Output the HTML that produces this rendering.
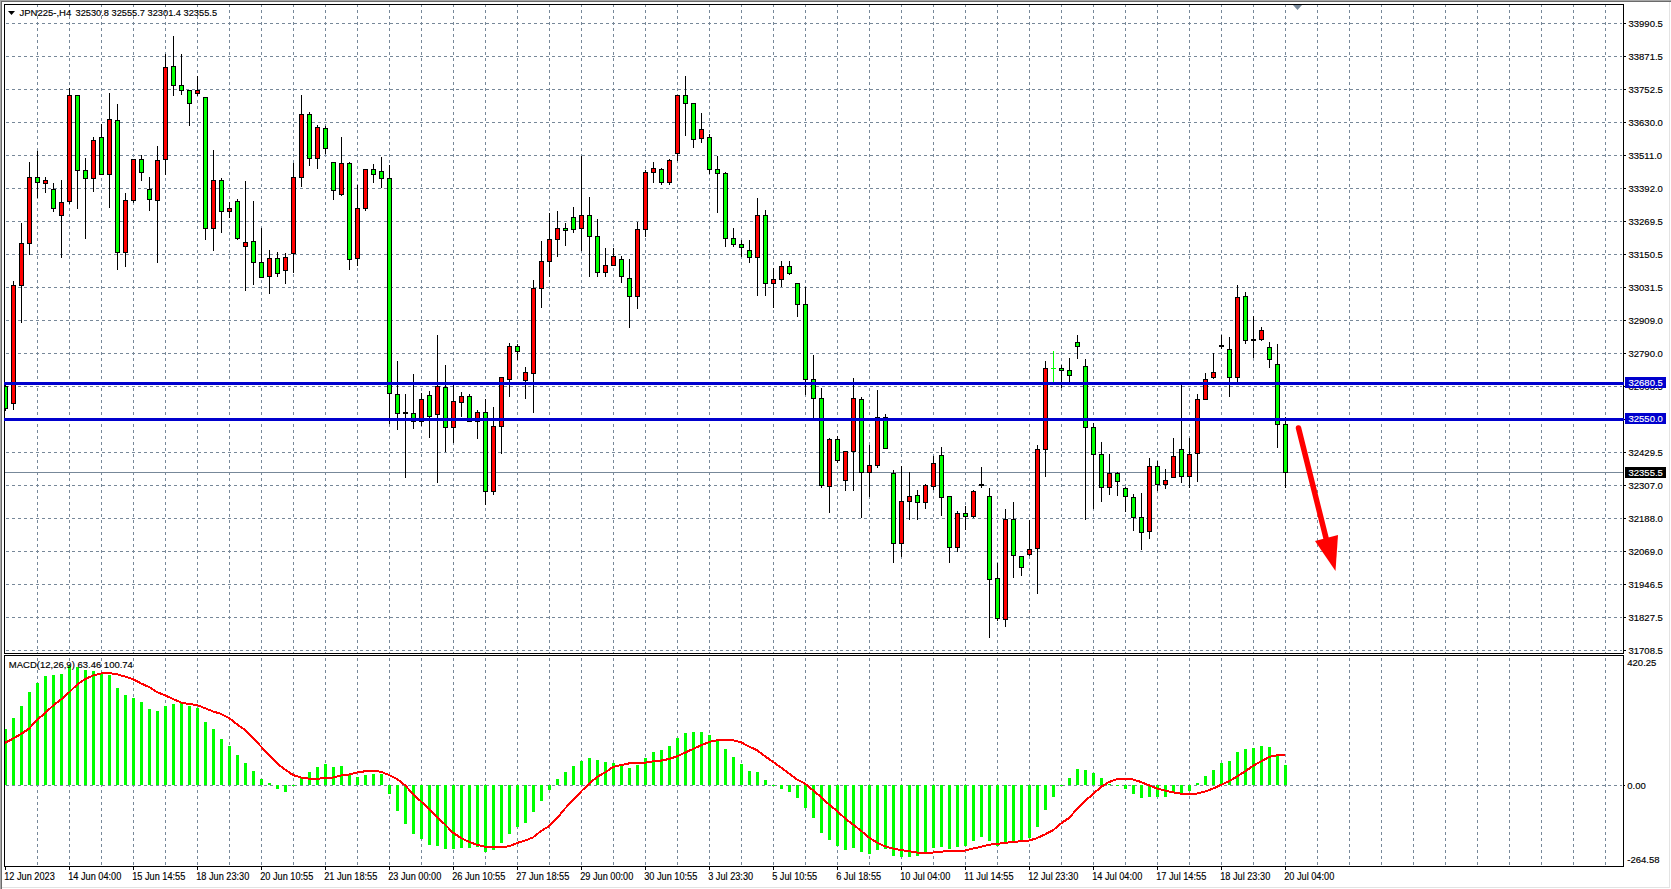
<!DOCTYPE html><html><head><meta charset="utf-8"><title>JPN225 H4</title><style>html,body{margin:0;padding:0;background:#fff;width:1671px;height:889px;overflow:hidden;position:relative}</style></head><body><svg width="1671" height="889" viewBox="0 0 1671 889" shape-rendering="crispEdges" style="position:absolute;left:0;top:0">
<rect x="0" y="0" width="1671" height="889" fill="#ffffff"/>
<rect x="0" y="0" width="1671" height="1" fill="#a8a8a8"/>
<rect x="0" y="0" width="1" height="889" fill="#a8a8a8"/>
<rect x="1" y="1" width="1670" height="1" fill="#6b6b6b"/>
<rect x="1" y="1" width="1" height="888" fill="#6b6b6b"/>
<rect x="1669" y="2" width="1" height="886" fill="#e3e3e3"/>
<rect x="2" y="887" width="1668" height="1" fill="#e3e3e3"/>
<defs><clipPath id="cp"><rect x="5" y="5" width="1618" height="648"/></clipPath><clipPath id="cm"><rect x="5" y="656" width="1618" height="210"/></clipPath></defs>
<path d="M6 23.5H1622M6 56.5H1622M6 89.5H1622M6 122.5H1622M6 155.5H1622M6 188.5H1622M6 221.5H1622M6 254.5H1622M6 287.5H1622M6 320.5H1622M6 353.5H1622M6 386.5H1622M6 419.5H1622M6 452.5H1622M6 485.5H1622M6 518.5H1622M6 551.5H1622M6 584.5H1622M6 617.5H1622M6 650.5H1622" stroke="#778899" stroke-width="1" stroke-dasharray="3 3" fill="none"/>
<path d="M37.5 4V653M69.5 4V653M101.5 4V653M133.5 4V653M165.5 4V653M197.5 4V653M229.5 4V653M261.5 4V653M293.5 4V653M325.5 4V653M357.5 4V653M389.5 4V653M421.5 4V653M453.5 4V653M485.5 4V653M517.5 4V653M549.5 4V653M581.5 4V653M613.5 4V653M645.5 4V653M677.5 4V653M709.5 4V653M741.5 4V653M773.5 4V653M805.5 4V653M837.5 4V653M869.5 4V653M901.5 4V653M933.5 4V653M965.5 4V653M997.5 4V653M1029.5 4V653M1061.5 4V653M1093.5 4V653M1125.5 4V653M1157.5 4V653M1189.5 4V653M1221.5 4V653M1253.5 4V653M1285.5 4V653M1317.5 4V653M1349.5 4V653M1381.5 4V653M1413.5 4V653M1445.5 4V653M1477.5 4V653M1509.5 4V653M1541.5 4V653M1573.5 4V653M1605.5 4V653" stroke="#778899" stroke-width="1" stroke-dasharray="3 3" fill="none"/>
<path d="M37.5 658V866M69.5 658V866M101.5 658V866M133.5 658V866M165.5 658V866M197.5 658V866M229.5 658V866M261.5 658V866M293.5 658V866M325.5 658V866M357.5 658V866M389.5 658V866M421.5 658V866M453.5 658V866M485.5 658V866M517.5 658V866M549.5 658V866M581.5 658V866M613.5 658V866M645.5 658V866M677.5 658V866M709.5 658V866M741.5 658V866M773.5 658V866M805.5 658V866M837.5 658V866M869.5 658V866M901.5 658V866M933.5 658V866M965.5 658V866M997.5 658V866M1029.5 658V866M1061.5 658V866M1093.5 658V866M1125.5 658V866M1157.5 658V866M1189.5 658V866M1221.5 658V866M1253.5 658V866M1285.5 658V866M1317.5 658V866M1349.5 658V866M1381.5 658V866M1413.5 658V866M1445.5 658V866M1477.5 658V866M1509.5 658V866M1541.5 658V866M1573.5 658V866M1605.5 658V866" stroke="#778899" stroke-width="1" stroke-dasharray="3 3" fill="none"/>
<path d="M6 785.5H1622" stroke="#778899" stroke-width="1" stroke-dasharray="3 3" fill="none"/>
<rect x="5" y="472" width="1618" height="1" fill="#778899"/>
<g clip-path="url(#cp)">
<rect x="5" y="383" width="1" height="28" fill="#000000"/>
<rect x="3" y="386" width="5" height="23" fill="#000000"/>
<rect x="4" y="387" width="3" height="21" fill="#00ff00"/>
<rect x="13" y="281" width="1" height="129" fill="#000000"/>
<rect x="11" y="285" width="5" height="119" fill="#000000"/>
<rect x="12" y="286" width="3" height="117" fill="#ff0000"/>
<rect x="21" y="223" width="1" height="100" fill="#000000"/>
<rect x="19" y="243" width="5" height="43" fill="#000000"/>
<rect x="20" y="244" width="3" height="41" fill="#ff0000"/>
<rect x="29" y="162" width="1" height="93" fill="#000000"/>
<rect x="27" y="177" width="5" height="67" fill="#000000"/>
<rect x="28" y="178" width="3" height="65" fill="#ff0000"/>
<rect x="37" y="151" width="1" height="47" fill="#000000"/>
<rect x="35" y="177" width="5" height="6" fill="#000000"/>
<rect x="36" y="178" width="3" height="4" fill="#00ff00"/>
<rect x="45" y="177" width="1" height="16" fill="#000000"/>
<rect x="43" y="180" width="5" height="4" fill="#000000"/>
<rect x="44" y="181" width="3" height="2" fill="#ff0000"/>
<rect x="53" y="183" width="1" height="29" fill="#000000"/>
<rect x="51" y="189" width="5" height="20" fill="#000000"/>
<rect x="52" y="190" width="3" height="18" fill="#00ff00"/>
<rect x="61" y="180" width="1" height="78" fill="#000000"/>
<rect x="59" y="202" width="5" height="14" fill="#000000"/>
<rect x="60" y="203" width="3" height="12" fill="#ff0000"/>
<rect x="69" y="88" width="1" height="116" fill="#000000"/>
<rect x="67" y="95" width="5" height="107" fill="#000000"/>
<rect x="68" y="96" width="3" height="105" fill="#ff0000"/>
<rect x="77" y="95" width="1" height="114" fill="#000000"/>
<rect x="75" y="95" width="5" height="76" fill="#000000"/>
<rect x="76" y="96" width="3" height="74" fill="#00ff00"/>
<rect x="85" y="158" width="1" height="81" fill="#000000"/>
<rect x="83" y="170" width="5" height="9" fill="#000000"/>
<rect x="84" y="171" width="3" height="7" fill="#00ff00"/>
<rect x="93" y="137" width="1" height="55" fill="#000000"/>
<rect x="91" y="140" width="5" height="39" fill="#000000"/>
<rect x="92" y="141" width="3" height="37" fill="#ff0000"/>
<rect x="101" y="124" width="1" height="51" fill="#000000"/>
<rect x="99" y="137" width="5" height="38" fill="#000000"/>
<rect x="100" y="138" width="3" height="36" fill="#00ff00"/>
<rect x="109" y="93" width="1" height="115" fill="#000000"/>
<rect x="107" y="119" width="5" height="56" fill="#000000"/>
<rect x="108" y="120" width="3" height="54" fill="#ff0000"/>
<rect x="117" y="104" width="1" height="166" fill="#000000"/>
<rect x="115" y="120" width="5" height="133" fill="#000000"/>
<rect x="116" y="121" width="3" height="131" fill="#00ff00"/>
<rect x="125" y="193" width="1" height="74" fill="#000000"/>
<rect x="123" y="200" width="5" height="53" fill="#000000"/>
<rect x="124" y="201" width="3" height="51" fill="#ff0000"/>
<rect x="133" y="159" width="1" height="44" fill="#000000"/>
<rect x="131" y="159" width="5" height="42" fill="#000000"/>
<rect x="132" y="160" width="3" height="40" fill="#ff0000"/>
<rect x="141" y="155" width="1" height="26" fill="#000000"/>
<rect x="139" y="159" width="5" height="14" fill="#000000"/>
<rect x="140" y="160" width="3" height="12" fill="#00ff00"/>
<rect x="149" y="177" width="1" height="34" fill="#000000"/>
<rect x="147" y="189" width="5" height="11" fill="#000000"/>
<rect x="148" y="190" width="3" height="9" fill="#00ff00"/>
<rect x="157" y="146" width="1" height="117" fill="#000000"/>
<rect x="155" y="160" width="5" height="41" fill="#000000"/>
<rect x="156" y="161" width="3" height="39" fill="#ff0000"/>
<rect x="165" y="54" width="1" height="121" fill="#000000"/>
<rect x="163" y="67" width="5" height="93" fill="#000000"/>
<rect x="164" y="68" width="3" height="91" fill="#ff0000"/>
<rect x="173" y="36" width="1" height="60" fill="#000000"/>
<rect x="171" y="66" width="5" height="20" fill="#000000"/>
<rect x="172" y="67" width="3" height="18" fill="#00ff00"/>
<rect x="181" y="54" width="1" height="41" fill="#000000"/>
<rect x="179" y="85" width="5" height="6" fill="#000000"/>
<rect x="180" y="86" width="3" height="4" fill="#00ff00"/>
<rect x="189" y="90" width="1" height="36" fill="#000000"/>
<rect x="187" y="90" width="5" height="14" fill="#000000"/>
<rect x="188" y="91" width="3" height="12" fill="#00ff00"/>
<rect x="197" y="76" width="1" height="20" fill="#000000"/>
<rect x="195" y="90" width="5" height="4" fill="#000000"/>
<rect x="196" y="91" width="3" height="2" fill="#ff0000"/>
<rect x="205" y="97" width="1" height="143" fill="#000000"/>
<rect x="203" y="97" width="5" height="132" fill="#000000"/>
<rect x="204" y="98" width="3" height="130" fill="#00ff00"/>
<rect x="213" y="150" width="1" height="101" fill="#000000"/>
<rect x="211" y="180" width="5" height="49" fill="#000000"/>
<rect x="212" y="181" width="3" height="47" fill="#ff0000"/>
<rect x="221" y="178" width="1" height="55" fill="#000000"/>
<rect x="219" y="180" width="5" height="32" fill="#000000"/>
<rect x="220" y="181" width="3" height="30" fill="#00ff00"/>
<rect x="229" y="202" width="1" height="16" fill="#000000"/>
<rect x="227" y="208" width="5" height="4" fill="#000000"/>
<rect x="228" y="209" width="3" height="2" fill="#ff0000"/>
<rect x="237" y="199" width="1" height="41" fill="#000000"/>
<rect x="235" y="201" width="5" height="38" fill="#000000"/>
<rect x="236" y="202" width="3" height="36" fill="#00ff00"/>
<rect x="245" y="181" width="1" height="110" fill="#000000"/>
<rect x="243" y="242" width="5" height="5" fill="#000000"/>
<rect x="244" y="243" width="3" height="3" fill="#ff0000"/>
<rect x="253" y="201" width="1" height="84" fill="#000000"/>
<rect x="251" y="241" width="5" height="22" fill="#000000"/>
<rect x="252" y="242" width="3" height="20" fill="#00ff00"/>
<rect x="261" y="228" width="1" height="50" fill="#000000"/>
<rect x="259" y="262" width="5" height="16" fill="#000000"/>
<rect x="260" y="263" width="3" height="14" fill="#00ff00"/>
<rect x="269" y="250" width="1" height="44" fill="#000000"/>
<rect x="267" y="258" width="5" height="19" fill="#000000"/>
<rect x="268" y="259" width="3" height="17" fill="#ff0000"/>
<rect x="277" y="252" width="1" height="25" fill="#000000"/>
<rect x="275" y="258" width="5" height="16" fill="#000000"/>
<rect x="276" y="259" width="3" height="14" fill="#00ff00"/>
<rect x="285" y="253" width="1" height="31" fill="#000000"/>
<rect x="283" y="257" width="5" height="14" fill="#000000"/>
<rect x="284" y="258" width="3" height="12" fill="#ff0000"/>
<rect x="293" y="163" width="1" height="110" fill="#000000"/>
<rect x="291" y="177" width="5" height="77" fill="#000000"/>
<rect x="292" y="178" width="3" height="75" fill="#ff0000"/>
<rect x="301" y="95" width="1" height="92" fill="#000000"/>
<rect x="299" y="114" width="5" height="64" fill="#000000"/>
<rect x="300" y="115" width="3" height="62" fill="#ff0000"/>
<rect x="309" y="112" width="1" height="54" fill="#000000"/>
<rect x="307" y="114" width="5" height="45" fill="#000000"/>
<rect x="308" y="115" width="3" height="43" fill="#00ff00"/>
<rect x="317" y="125" width="1" height="44" fill="#000000"/>
<rect x="315" y="127" width="5" height="32" fill="#000000"/>
<rect x="316" y="128" width="3" height="30" fill="#ff0000"/>
<rect x="325" y="126" width="1" height="28" fill="#000000"/>
<rect x="323" y="128" width="5" height="21" fill="#000000"/>
<rect x="324" y="129" width="3" height="19" fill="#00ff00"/>
<rect x="333" y="162" width="1" height="38" fill="#000000"/>
<rect x="331" y="162" width="5" height="29" fill="#000000"/>
<rect x="332" y="163" width="3" height="27" fill="#00ff00"/>
<rect x="341" y="137" width="1" height="59" fill="#000000"/>
<rect x="339" y="163" width="5" height="32" fill="#000000"/>
<rect x="340" y="164" width="3" height="30" fill="#ff0000"/>
<rect x="349" y="162" width="1" height="108" fill="#000000"/>
<rect x="347" y="163" width="5" height="97" fill="#000000"/>
<rect x="348" y="164" width="3" height="95" fill="#00ff00"/>
<rect x="357" y="185" width="1" height="81" fill="#000000"/>
<rect x="355" y="208" width="5" height="51" fill="#000000"/>
<rect x="356" y="209" width="3" height="49" fill="#ff0000"/>
<rect x="365" y="169" width="1" height="42" fill="#000000"/>
<rect x="363" y="169" width="5" height="40" fill="#000000"/>
<rect x="364" y="170" width="3" height="38" fill="#ff0000"/>
<rect x="373" y="164" width="1" height="19" fill="#000000"/>
<rect x="371" y="169" width="5" height="6" fill="#000000"/>
<rect x="372" y="170" width="3" height="4" fill="#00ff00"/>
<rect x="381" y="157" width="1" height="31" fill="#000000"/>
<rect x="379" y="171" width="5" height="8" fill="#000000"/>
<rect x="380" y="172" width="3" height="6" fill="#00ff00"/>
<rect x="389" y="165" width="1" height="259" fill="#000000"/>
<rect x="387" y="178" width="5" height="216" fill="#000000"/>
<rect x="388" y="179" width="3" height="214" fill="#00ff00"/>
<rect x="397" y="361" width="1" height="69" fill="#000000"/>
<rect x="395" y="394" width="5" height="20" fill="#000000"/>
<rect x="396" y="395" width="3" height="18" fill="#00ff00"/>
<rect x="405" y="394" width="1" height="84" fill="#000000"/>
<rect x="403" y="412" width="5" height="2" fill="#000000"/>
<rect x="413" y="374" width="1" height="55" fill="#000000"/>
<rect x="411" y="413" width="5" height="9" fill="#000000"/>
<rect x="412" y="414" width="3" height="7" fill="#00ff00"/>
<rect x="421" y="393" width="1" height="33" fill="#000000"/>
<rect x="419" y="399" width="5" height="23" fill="#000000"/>
<rect x="420" y="400" width="3" height="21" fill="#ff0000"/>
<rect x="429" y="391" width="1" height="47" fill="#000000"/>
<rect x="427" y="395" width="5" height="22" fill="#000000"/>
<rect x="428" y="396" width="3" height="20" fill="#00ff00"/>
<rect x="437" y="335" width="1" height="148" fill="#000000"/>
<rect x="435" y="386" width="5" height="29" fill="#000000"/>
<rect x="436" y="387" width="3" height="27" fill="#ff0000"/>
<rect x="445" y="365" width="1" height="87" fill="#000000"/>
<rect x="443" y="387" width="5" height="41" fill="#000000"/>
<rect x="444" y="388" width="3" height="39" fill="#00ff00"/>
<rect x="453" y="385" width="1" height="58" fill="#000000"/>
<rect x="451" y="401" width="5" height="27" fill="#000000"/>
<rect x="452" y="402" width="3" height="25" fill="#ff0000"/>
<rect x="461" y="392" width="1" height="25" fill="#000000"/>
<rect x="459" y="396" width="5" height="7" fill="#000000"/>
<rect x="460" y="397" width="3" height="5" fill="#ff0000"/>
<rect x="469" y="394" width="1" height="28" fill="#000000"/>
<rect x="467" y="396" width="5" height="26" fill="#000000"/>
<rect x="468" y="397" width="3" height="24" fill="#00ff00"/>
<rect x="477" y="410" width="1" height="29" fill="#000000"/>
<rect x="475" y="412" width="5" height="10" fill="#000000"/>
<rect x="476" y="413" width="3" height="8" fill="#ff0000"/>
<rect x="485" y="399" width="1" height="106" fill="#000000"/>
<rect x="483" y="412" width="5" height="80" fill="#000000"/>
<rect x="484" y="413" width="3" height="78" fill="#00ff00"/>
<rect x="493" y="407" width="1" height="88" fill="#000000"/>
<rect x="491" y="426" width="5" height="66" fill="#000000"/>
<rect x="492" y="427" width="3" height="64" fill="#ff0000"/>
<rect x="501" y="377" width="1" height="77" fill="#000000"/>
<rect x="499" y="377" width="5" height="50" fill="#000000"/>
<rect x="500" y="378" width="3" height="48" fill="#ff0000"/>
<rect x="509" y="343" width="1" height="54" fill="#000000"/>
<rect x="507" y="346" width="5" height="34" fill="#000000"/>
<rect x="508" y="347" width="3" height="32" fill="#ff0000"/>
<rect x="517" y="344" width="1" height="16" fill="#000000"/>
<rect x="515" y="346" width="5" height="6" fill="#000000"/>
<rect x="516" y="347" width="3" height="4" fill="#00ff00"/>
<rect x="525" y="367" width="1" height="32" fill="#000000"/>
<rect x="523" y="372" width="5" height="9" fill="#000000"/>
<rect x="524" y="373" width="3" height="7" fill="#ff0000"/>
<rect x="533" y="280" width="1" height="133" fill="#000000"/>
<rect x="531" y="288" width="5" height="86" fill="#000000"/>
<rect x="532" y="289" width="3" height="84" fill="#ff0000"/>
<rect x="541" y="241" width="1" height="67" fill="#000000"/>
<rect x="539" y="261" width="5" height="28" fill="#000000"/>
<rect x="540" y="262" width="3" height="26" fill="#ff0000"/>
<rect x="549" y="213" width="1" height="64" fill="#000000"/>
<rect x="547" y="239" width="5" height="23" fill="#000000"/>
<rect x="548" y="240" width="3" height="21" fill="#ff0000"/>
<rect x="557" y="211" width="1" height="46" fill="#000000"/>
<rect x="555" y="228" width="5" height="12" fill="#000000"/>
<rect x="556" y="229" width="3" height="10" fill="#ff0000"/>
<rect x="565" y="223" width="1" height="23" fill="#000000"/>
<rect x="563" y="228" width="5" height="3" fill="#000000"/>
<rect x="564" y="229" width="3" height="1" fill="#00ff00"/>
<rect x="573" y="207" width="1" height="26" fill="#000000"/>
<rect x="571" y="217" width="5" height="13" fill="#000000"/>
<rect x="572" y="218" width="3" height="11" fill="#00ff00"/>
<rect x="581" y="156" width="1" height="95" fill="#000000"/>
<rect x="579" y="215" width="5" height="14" fill="#000000"/>
<rect x="580" y="216" width="3" height="12" fill="#ff0000"/>
<rect x="589" y="197" width="1" height="80" fill="#000000"/>
<rect x="587" y="215" width="5" height="22" fill="#000000"/>
<rect x="588" y="216" width="3" height="20" fill="#00ff00"/>
<rect x="597" y="219" width="1" height="58" fill="#000000"/>
<rect x="595" y="236" width="5" height="37" fill="#000000"/>
<rect x="596" y="237" width="3" height="35" fill="#00ff00"/>
<rect x="605" y="248" width="1" height="29" fill="#000000"/>
<rect x="603" y="265" width="5" height="8" fill="#000000"/>
<rect x="604" y="266" width="3" height="6" fill="#ff0000"/>
<rect x="613" y="248" width="1" height="18" fill="#000000"/>
<rect x="611" y="256" width="5" height="10" fill="#000000"/>
<rect x="612" y="257" width="3" height="8" fill="#ff0000"/>
<rect x="621" y="256" width="1" height="27" fill="#000000"/>
<rect x="619" y="259" width="5" height="18" fill="#000000"/>
<rect x="620" y="260" width="3" height="16" fill="#00ff00"/>
<rect x="629" y="259" width="1" height="69" fill="#000000"/>
<rect x="627" y="278" width="5" height="19" fill="#000000"/>
<rect x="628" y="279" width="3" height="17" fill="#00ff00"/>
<rect x="637" y="222" width="1" height="87" fill="#000000"/>
<rect x="635" y="229" width="5" height="68" fill="#000000"/>
<rect x="636" y="230" width="3" height="66" fill="#ff0000"/>
<rect x="645" y="170" width="1" height="67" fill="#000000"/>
<rect x="643" y="172" width="5" height="58" fill="#000000"/>
<rect x="644" y="173" width="3" height="56" fill="#ff0000"/>
<rect x="653" y="162" width="1" height="21" fill="#000000"/>
<rect x="651" y="168" width="5" height="5" fill="#000000"/>
<rect x="652" y="169" width="3" height="3" fill="#ff0000"/>
<rect x="661" y="168" width="1" height="17" fill="#000000"/>
<rect x="659" y="169" width="5" height="14" fill="#000000"/>
<rect x="660" y="170" width="3" height="12" fill="#00ff00"/>
<rect x="669" y="159" width="1" height="26" fill="#000000"/>
<rect x="667" y="160" width="5" height="23" fill="#000000"/>
<rect x="668" y="161" width="3" height="21" fill="#ff0000"/>
<rect x="677" y="95" width="1" height="66" fill="#000000"/>
<rect x="675" y="95" width="5" height="59" fill="#000000"/>
<rect x="676" y="96" width="3" height="57" fill="#ff0000"/>
<rect x="685" y="76" width="1" height="60" fill="#000000"/>
<rect x="683" y="95" width="5" height="9" fill="#000000"/>
<rect x="684" y="96" width="3" height="7" fill="#00ff00"/>
<rect x="693" y="103" width="1" height="45" fill="#000000"/>
<rect x="691" y="103" width="5" height="37" fill="#000000"/>
<rect x="692" y="104" width="3" height="35" fill="#00ff00"/>
<rect x="701" y="113" width="1" height="30" fill="#000000"/>
<rect x="699" y="129" width="5" height="10" fill="#000000"/>
<rect x="700" y="130" width="3" height="8" fill="#ff0000"/>
<rect x="709" y="134" width="1" height="40" fill="#000000"/>
<rect x="707" y="137" width="5" height="33" fill="#000000"/>
<rect x="708" y="138" width="3" height="31" fill="#00ff00"/>
<rect x="717" y="156" width="1" height="57" fill="#000000"/>
<rect x="715" y="169" width="5" height="5" fill="#000000"/>
<rect x="716" y="170" width="3" height="3" fill="#00ff00"/>
<rect x="725" y="172" width="1" height="75" fill="#000000"/>
<rect x="723" y="173" width="5" height="66" fill="#000000"/>
<rect x="724" y="174" width="3" height="64" fill="#00ff00"/>
<rect x="733" y="228" width="1" height="19" fill="#000000"/>
<rect x="731" y="238" width="5" height="7" fill="#000000"/>
<rect x="732" y="239" width="3" height="5" fill="#00ff00"/>
<rect x="741" y="240" width="1" height="17" fill="#000000"/>
<rect x="739" y="244" width="5" height="4" fill="#000000"/>
<rect x="740" y="245" width="3" height="2" fill="#00ff00"/>
<rect x="749" y="240" width="1" height="23" fill="#000000"/>
<rect x="747" y="250" width="5" height="8" fill="#000000"/>
<rect x="748" y="251" width="3" height="6" fill="#00ff00"/>
<rect x="757" y="198" width="1" height="98" fill="#000000"/>
<rect x="755" y="215" width="5" height="43" fill="#000000"/>
<rect x="756" y="216" width="3" height="41" fill="#ff0000"/>
<rect x="765" y="210" width="1" height="86" fill="#000000"/>
<rect x="763" y="215" width="5" height="69" fill="#000000"/>
<rect x="764" y="216" width="3" height="67" fill="#00ff00"/>
<rect x="773" y="268" width="1" height="40" fill="#000000"/>
<rect x="771" y="279" width="5" height="5" fill="#000000"/>
<rect x="772" y="280" width="3" height="3" fill="#ff0000"/>
<rect x="781" y="261" width="1" height="26" fill="#000000"/>
<rect x="779" y="266" width="5" height="14" fill="#000000"/>
<rect x="780" y="267" width="3" height="12" fill="#ff0000"/>
<rect x="789" y="261" width="1" height="14" fill="#000000"/>
<rect x="787" y="266" width="5" height="8" fill="#000000"/>
<rect x="788" y="267" width="3" height="6" fill="#00ff00"/>
<rect x="797" y="283" width="1" height="34" fill="#000000"/>
<rect x="795" y="283" width="5" height="22" fill="#000000"/>
<rect x="796" y="284" width="3" height="20" fill="#00ff00"/>
<rect x="805" y="287" width="1" height="108" fill="#000000"/>
<rect x="803" y="304" width="5" height="76" fill="#000000"/>
<rect x="804" y="305" width="3" height="74" fill="#00ff00"/>
<rect x="813" y="355" width="1" height="63" fill="#000000"/>
<rect x="811" y="379" width="5" height="20" fill="#000000"/>
<rect x="812" y="380" width="3" height="18" fill="#00ff00"/>
<rect x="821" y="388" width="1" height="100" fill="#000000"/>
<rect x="819" y="398" width="5" height="88" fill="#000000"/>
<rect x="820" y="399" width="3" height="86" fill="#00ff00"/>
<rect x="829" y="438" width="1" height="75" fill="#000000"/>
<rect x="827" y="439" width="5" height="48" fill="#000000"/>
<rect x="828" y="440" width="3" height="46" fill="#ff0000"/>
<rect x="837" y="436" width="1" height="27" fill="#000000"/>
<rect x="835" y="439" width="5" height="22" fill="#000000"/>
<rect x="836" y="440" width="3" height="20" fill="#00ff00"/>
<rect x="845" y="451" width="1" height="40" fill="#000000"/>
<rect x="843" y="451" width="5" height="30" fill="#000000"/>
<rect x="844" y="452" width="3" height="28" fill="#ff0000"/>
<rect x="853" y="378" width="1" height="113" fill="#000000"/>
<rect x="851" y="398" width="5" height="54" fill="#000000"/>
<rect x="852" y="399" width="3" height="52" fill="#ff0000"/>
<rect x="861" y="397" width="1" height="121" fill="#000000"/>
<rect x="859" y="399" width="5" height="74" fill="#000000"/>
<rect x="860" y="400" width="3" height="72" fill="#00ff00"/>
<rect x="869" y="445" width="1" height="52" fill="#000000"/>
<rect x="867" y="465" width="5" height="8" fill="#000000"/>
<rect x="868" y="466" width="3" height="6" fill="#ff0000"/>
<rect x="877" y="390" width="1" height="78" fill="#000000"/>
<rect x="875" y="417" width="5" height="49" fill="#000000"/>
<rect x="876" y="418" width="3" height="47" fill="#ff0000"/>
<rect x="885" y="414" width="1" height="35" fill="#000000"/>
<rect x="883" y="417" width="5" height="32" fill="#000000"/>
<rect x="884" y="418" width="3" height="30" fill="#00ff00"/>
<rect x="893" y="470" width="1" height="93" fill="#000000"/>
<rect x="891" y="473" width="5" height="71" fill="#000000"/>
<rect x="892" y="474" width="3" height="69" fill="#00ff00"/>
<rect x="901" y="466" width="1" height="91" fill="#000000"/>
<rect x="899" y="501" width="5" height="43" fill="#000000"/>
<rect x="900" y="502" width="3" height="41" fill="#ff0000"/>
<rect x="909" y="472" width="1" height="48" fill="#000000"/>
<rect x="907" y="496" width="5" height="6" fill="#000000"/>
<rect x="908" y="497" width="3" height="4" fill="#ff0000"/>
<rect x="917" y="490" width="1" height="30" fill="#000000"/>
<rect x="915" y="495" width="5" height="8" fill="#000000"/>
<rect x="916" y="496" width="3" height="6" fill="#00ff00"/>
<rect x="925" y="484" width="1" height="25" fill="#000000"/>
<rect x="923" y="485" width="5" height="18" fill="#000000"/>
<rect x="924" y="486" width="3" height="16" fill="#ff0000"/>
<rect x="933" y="456" width="1" height="34" fill="#000000"/>
<rect x="931" y="463" width="5" height="24" fill="#000000"/>
<rect x="932" y="464" width="3" height="22" fill="#ff0000"/>
<rect x="941" y="447" width="1" height="69" fill="#000000"/>
<rect x="939" y="455" width="5" height="43" fill="#000000"/>
<rect x="940" y="456" width="3" height="41" fill="#00ff00"/>
<rect x="949" y="496" width="1" height="67" fill="#000000"/>
<rect x="947" y="496" width="5" height="52" fill="#000000"/>
<rect x="948" y="497" width="3" height="50" fill="#00ff00"/>
<rect x="957" y="511" width="1" height="41" fill="#000000"/>
<rect x="955" y="513" width="5" height="35" fill="#000000"/>
<rect x="956" y="514" width="3" height="33" fill="#ff0000"/>
<rect x="965" y="506" width="1" height="24" fill="#000000"/>
<rect x="963" y="513" width="5" height="4" fill="#000000"/>
<rect x="964" y="514" width="3" height="2" fill="#00ff00"/>
<rect x="973" y="490" width="1" height="28" fill="#000000"/>
<rect x="971" y="491" width="5" height="26" fill="#000000"/>
<rect x="972" y="492" width="3" height="24" fill="#ff0000"/>
<rect x="981" y="467" width="1" height="21" fill="#000000"/>
<rect x="979" y="484" width="5" height="2" fill="#000000"/>
<rect x="989" y="488" width="1" height="150" fill="#000000"/>
<rect x="987" y="496" width="5" height="84" fill="#000000"/>
<rect x="988" y="497" width="3" height="82" fill="#00ff00"/>
<rect x="997" y="563" width="1" height="58" fill="#000000"/>
<rect x="995" y="578" width="5" height="41" fill="#000000"/>
<rect x="996" y="579" width="3" height="39" fill="#00ff00"/>
<rect x="1005" y="509" width="1" height="118" fill="#000000"/>
<rect x="1003" y="519" width="5" height="101" fill="#000000"/>
<rect x="1004" y="520" width="3" height="99" fill="#ff0000"/>
<rect x="1013" y="502" width="1" height="76" fill="#000000"/>
<rect x="1011" y="519" width="5" height="37" fill="#000000"/>
<rect x="1012" y="520" width="3" height="35" fill="#00ff00"/>
<rect x="1021" y="556" width="1" height="20" fill="#000000"/>
<rect x="1019" y="556" width="5" height="12" fill="#000000"/>
<rect x="1020" y="557" width="3" height="10" fill="#00ff00"/>
<rect x="1029" y="520" width="1" height="36" fill="#000000"/>
<rect x="1027" y="549" width="5" height="6" fill="#000000"/>
<rect x="1028" y="550" width="3" height="4" fill="#ff0000"/>
<rect x="1037" y="445" width="1" height="149" fill="#000000"/>
<rect x="1035" y="449" width="5" height="100" fill="#000000"/>
<rect x="1036" y="450" width="3" height="98" fill="#ff0000"/>
<rect x="1045" y="361" width="1" height="116" fill="#000000"/>
<rect x="1043" y="368" width="5" height="82" fill="#000000"/>
<rect x="1044" y="369" width="3" height="80" fill="#ff0000"/>
<rect x="1053" y="351" width="1" height="32" fill="#00ff00"/>
<rect x="1051" y="368" width="5" height="1" fill="#00ff00"/>
<rect x="1061" y="365" width="1" height="23" fill="#000000"/>
<rect x="1059" y="368" width="5" height="3" fill="#000000"/>
<rect x="1060" y="369" width="3" height="1" fill="#00ff00"/>
<rect x="1069" y="358" width="1" height="24" fill="#000000"/>
<rect x="1067" y="370" width="5" height="6" fill="#000000"/>
<rect x="1068" y="371" width="3" height="4" fill="#00ff00"/>
<rect x="1077" y="335" width="1" height="24" fill="#000000"/>
<rect x="1075" y="342" width="5" height="5" fill="#000000"/>
<rect x="1076" y="343" width="3" height="3" fill="#00ff00"/>
<rect x="1085" y="359" width="1" height="161" fill="#000000"/>
<rect x="1083" y="366" width="5" height="62" fill="#000000"/>
<rect x="1084" y="367" width="3" height="60" fill="#00ff00"/>
<rect x="1093" y="423" width="1" height="86" fill="#000000"/>
<rect x="1091" y="427" width="5" height="28" fill="#000000"/>
<rect x="1092" y="428" width="3" height="26" fill="#00ff00"/>
<rect x="1101" y="442" width="1" height="60" fill="#000000"/>
<rect x="1099" y="454" width="5" height="34" fill="#000000"/>
<rect x="1100" y="455" width="3" height="32" fill="#00ff00"/>
<rect x="1109" y="454" width="1" height="41" fill="#000000"/>
<rect x="1107" y="473" width="5" height="15" fill="#000000"/>
<rect x="1108" y="474" width="3" height="13" fill="#ff0000"/>
<rect x="1117" y="472" width="1" height="24" fill="#000000"/>
<rect x="1115" y="473" width="5" height="9" fill="#000000"/>
<rect x="1116" y="474" width="3" height="7" fill="#00ff00"/>
<rect x="1125" y="487" width="1" height="25" fill="#000000"/>
<rect x="1123" y="488" width="5" height="9" fill="#000000"/>
<rect x="1124" y="489" width="3" height="7" fill="#00ff00"/>
<rect x="1133" y="494" width="1" height="37" fill="#000000"/>
<rect x="1131" y="497" width="5" height="21" fill="#000000"/>
<rect x="1132" y="498" width="3" height="19" fill="#00ff00"/>
<rect x="1141" y="493" width="1" height="57" fill="#000000"/>
<rect x="1139" y="517" width="5" height="16" fill="#000000"/>
<rect x="1140" y="518" width="3" height="14" fill="#00ff00"/>
<rect x="1149" y="458" width="1" height="81" fill="#000000"/>
<rect x="1147" y="466" width="5" height="66" fill="#000000"/>
<rect x="1148" y="467" width="3" height="64" fill="#ff0000"/>
<rect x="1157" y="461" width="1" height="30" fill="#000000"/>
<rect x="1155" y="466" width="5" height="19" fill="#000000"/>
<rect x="1156" y="467" width="3" height="17" fill="#00ff00"/>
<rect x="1165" y="469" width="1" height="20" fill="#000000"/>
<rect x="1163" y="480" width="5" height="5" fill="#000000"/>
<rect x="1164" y="481" width="3" height="3" fill="#ff0000"/>
<rect x="1173" y="438" width="1" height="40" fill="#000000"/>
<rect x="1171" y="456" width="5" height="22" fill="#000000"/>
<rect x="1172" y="457" width="3" height="20" fill="#ff0000"/>
<rect x="1181" y="384" width="1" height="99" fill="#000000"/>
<rect x="1179" y="449" width="5" height="28" fill="#000000"/>
<rect x="1180" y="450" width="3" height="26" fill="#00ff00"/>
<rect x="1189" y="438" width="1" height="50" fill="#000000"/>
<rect x="1187" y="454" width="5" height="23" fill="#000000"/>
<rect x="1188" y="455" width="3" height="21" fill="#ff0000"/>
<rect x="1197" y="394" width="1" height="88" fill="#000000"/>
<rect x="1195" y="399" width="5" height="55" fill="#000000"/>
<rect x="1196" y="400" width="3" height="53" fill="#ff0000"/>
<rect x="1205" y="373" width="1" height="27" fill="#000000"/>
<rect x="1203" y="379" width="5" height="21" fill="#000000"/>
<rect x="1204" y="380" width="3" height="19" fill="#ff0000"/>
<rect x="1213" y="353" width="1" height="26" fill="#000000"/>
<rect x="1211" y="372" width="5" height="6" fill="#000000"/>
<rect x="1212" y="373" width="3" height="4" fill="#ff0000"/>
<rect x="1221" y="335" width="1" height="14" fill="#000000"/>
<rect x="1219" y="345" width="5" height="2" fill="#000000"/>
<rect x="1229" y="337" width="1" height="60" fill="#000000"/>
<rect x="1227" y="349" width="5" height="29" fill="#000000"/>
<rect x="1228" y="350" width="3" height="27" fill="#00ff00"/>
<rect x="1237" y="285" width="1" height="97" fill="#000000"/>
<rect x="1235" y="297" width="5" height="81" fill="#000000"/>
<rect x="1236" y="298" width="3" height="79" fill="#ff0000"/>
<rect x="1245" y="292" width="1" height="52" fill="#000000"/>
<rect x="1243" y="296" width="5" height="45" fill="#000000"/>
<rect x="1244" y="297" width="3" height="43" fill="#00ff00"/>
<rect x="1253" y="316" width="1" height="42" fill="#000000"/>
<rect x="1251" y="339" width="5" height="2" fill="#000000"/>
<rect x="1261" y="327" width="1" height="14" fill="#000000"/>
<rect x="1259" y="330" width="5" height="10" fill="#000000"/>
<rect x="1260" y="331" width="3" height="8" fill="#ff0000"/>
<rect x="1269" y="342" width="1" height="26" fill="#000000"/>
<rect x="1267" y="347" width="5" height="13" fill="#000000"/>
<rect x="1268" y="348" width="3" height="11" fill="#00ff00"/>
<rect x="1277" y="344" width="1" height="104" fill="#000000"/>
<rect x="1275" y="364" width="5" height="61" fill="#000000"/>
<rect x="1276" y="365" width="3" height="59" fill="#00ff00"/>
<rect x="1285" y="417" width="1" height="71" fill="#000000"/>
<rect x="1283" y="424" width="5" height="49" fill="#000000"/>
<rect x="1284" y="425" width="3" height="47" fill="#00ff00"/>
</g>
<rect x="5" y="382" width="1618" height="3" fill="#0000cd"/>
<rect x="5" y="418" width="1618" height="3" fill="#0000cd"/>
<g clip-path="url(#cm)">
<rect x="4" y="729" width="3" height="56" fill="#00ff00"/>
<rect x="12" y="718" width="3" height="67" fill="#00ff00"/>
<rect x="20" y="706" width="3" height="79" fill="#00ff00"/>
<rect x="28" y="692" width="3" height="93" fill="#00ff00"/>
<rect x="36" y="683" width="3" height="102" fill="#00ff00"/>
<rect x="44" y="676" width="3" height="109" fill="#00ff00"/>
<rect x="52" y="675" width="3" height="110" fill="#00ff00"/>
<rect x="60" y="674" width="3" height="111" fill="#00ff00"/>
<rect x="68" y="666" width="3" height="119" fill="#00ff00"/>
<rect x="76" y="667" width="3" height="118" fill="#00ff00"/>
<rect x="84" y="670" width="3" height="115" fill="#00ff00"/>
<rect x="92" y="671" width="3" height="114" fill="#00ff00"/>
<rect x="100" y="674" width="3" height="111" fill="#00ff00"/>
<rect x="108" y="675" width="3" height="110" fill="#00ff00"/>
<rect x="116" y="688" width="3" height="97" fill="#00ff00"/>
<rect x="124" y="695" width="3" height="90" fill="#00ff00"/>
<rect x="132" y="698" width="3" height="87" fill="#00ff00"/>
<rect x="140" y="702" width="3" height="83" fill="#00ff00"/>
<rect x="148" y="709" width="3" height="76" fill="#00ff00"/>
<rect x="156" y="711" width="3" height="74" fill="#00ff00"/>
<rect x="164" y="706" width="3" height="79" fill="#00ff00"/>
<rect x="172" y="704" width="3" height="81" fill="#00ff00"/>
<rect x="180" y="703" width="3" height="82" fill="#00ff00"/>
<rect x="188" y="706" width="3" height="79" fill="#00ff00"/>
<rect x="196" y="708" width="3" height="77" fill="#00ff00"/>
<rect x="204" y="722" width="3" height="63" fill="#00ff00"/>
<rect x="212" y="729" width="3" height="56" fill="#00ff00"/>
<rect x="220" y="739" width="3" height="46" fill="#00ff00"/>
<rect x="228" y="746" width="3" height="39" fill="#00ff00"/>
<rect x="236" y="755" width="3" height="30" fill="#00ff00"/>
<rect x="244" y="763" width="3" height="22" fill="#00ff00"/>
<rect x="252" y="771" width="3" height="14" fill="#00ff00"/>
<rect x="260" y="779" width="3" height="6" fill="#00ff00"/>
<rect x="268" y="783" width="3" height="2" fill="#00ff00"/>
<rect x="276" y="785" width="3" height="4" fill="#00ff00"/>
<rect x="284" y="785" width="3" height="7" fill="#00ff00"/>
<rect x="292" y="785" width="3" height="1" fill="#00ff00"/>
<rect x="300" y="777" width="3" height="8" fill="#00ff00"/>
<rect x="308" y="772" width="3" height="13" fill="#00ff00"/>
<rect x="316" y="767" width="3" height="18" fill="#00ff00"/>
<rect x="324" y="764" width="3" height="21" fill="#00ff00"/>
<rect x="332" y="767" width="3" height="18" fill="#00ff00"/>
<rect x="340" y="766" width="3" height="19" fill="#00ff00"/>
<rect x="348" y="774" width="3" height="11" fill="#00ff00"/>
<rect x="356" y="777" width="3" height="8" fill="#00ff00"/>
<rect x="364" y="775" width="3" height="10" fill="#00ff00"/>
<rect x="372" y="774" width="3" height="11" fill="#00ff00"/>
<rect x="380" y="774" width="3" height="11" fill="#00ff00"/>
<rect x="388" y="785" width="3" height="9" fill="#00ff00"/>
<rect x="396" y="785" width="3" height="26" fill="#00ff00"/>
<rect x="404" y="785" width="3" height="39" fill="#00ff00"/>
<rect x="412" y="785" width="3" height="49" fill="#00ff00"/>
<rect x="420" y="785" width="3" height="54" fill="#00ff00"/>
<rect x="428" y="785" width="3" height="60" fill="#00ff00"/>
<rect x="436" y="785" width="3" height="61" fill="#00ff00"/>
<rect x="444" y="785" width="3" height="64" fill="#00ff00"/>
<rect x="452" y="785" width="3" height="64" fill="#00ff00"/>
<rect x="460" y="785" width="3" height="63" fill="#00ff00"/>
<rect x="468" y="785" width="3" height="63" fill="#00ff00"/>
<rect x="476" y="785" width="3" height="62" fill="#00ff00"/>
<rect x="484" y="785" width="3" height="67" fill="#00ff00"/>
<rect x="492" y="785" width="3" height="65" fill="#00ff00"/>
<rect x="500" y="785" width="3" height="58" fill="#00ff00"/>
<rect x="508" y="785" width="3" height="49" fill="#00ff00"/>
<rect x="516" y="785" width="3" height="42" fill="#00ff00"/>
<rect x="524" y="785" width="3" height="38" fill="#00ff00"/>
<rect x="532" y="785" width="3" height="27" fill="#00ff00"/>
<rect x="540" y="785" width="3" height="16" fill="#00ff00"/>
<rect x="548" y="785" width="3" height="5" fill="#00ff00"/>
<rect x="556" y="779" width="3" height="6" fill="#00ff00"/>
<rect x="564" y="772" width="3" height="13" fill="#00ff00"/>
<rect x="572" y="766" width="3" height="19" fill="#00ff00"/>
<rect x="580" y="761" width="3" height="24" fill="#00ff00"/>
<rect x="588" y="758" width="3" height="27" fill="#00ff00"/>
<rect x="596" y="760" width="3" height="25" fill="#00ff00"/>
<rect x="604" y="762" width="3" height="23" fill="#00ff00"/>
<rect x="612" y="763" width="3" height="22" fill="#00ff00"/>
<rect x="620" y="766" width="3" height="19" fill="#00ff00"/>
<rect x="628" y="768" width="3" height="17" fill="#00ff00"/>
<rect x="636" y="765" width="3" height="20" fill="#00ff00"/>
<rect x="644" y="758" width="3" height="27" fill="#00ff00"/>
<rect x="652" y="752" width="3" height="33" fill="#00ff00"/>
<rect x="660" y="750" width="3" height="35" fill="#00ff00"/>
<rect x="668" y="746" width="3" height="39" fill="#00ff00"/>
<rect x="676" y="738" width="3" height="47" fill="#00ff00"/>
<rect x="684" y="733" width="3" height="52" fill="#00ff00"/>
<rect x="692" y="732" width="3" height="53" fill="#00ff00"/>
<rect x="700" y="732" width="3" height="53" fill="#00ff00"/>
<rect x="708" y="735" width="3" height="50" fill="#00ff00"/>
<rect x="716" y="740" width="3" height="45" fill="#00ff00"/>
<rect x="724" y="749" width="3" height="36" fill="#00ff00"/>
<rect x="732" y="757" width="3" height="28" fill="#00ff00"/>
<rect x="740" y="764" width="3" height="21" fill="#00ff00"/>
<rect x="748" y="771" width="3" height="14" fill="#00ff00"/>
<rect x="756" y="772" width="3" height="13" fill="#00ff00"/>
<rect x="764" y="780" width="3" height="5" fill="#00ff00"/>
<rect x="772" y="785" width="3" height="1" fill="#00ff00"/>
<rect x="780" y="785" width="3" height="4" fill="#00ff00"/>
<rect x="788" y="785" width="3" height="7" fill="#00ff00"/>
<rect x="796" y="785" width="3" height="13" fill="#00ff00"/>
<rect x="804" y="785" width="3" height="23" fill="#00ff00"/>
<rect x="812" y="785" width="3" height="33" fill="#00ff00"/>
<rect x="820" y="785" width="3" height="48" fill="#00ff00"/>
<rect x="828" y="785" width="3" height="55" fill="#00ff00"/>
<rect x="836" y="785" width="3" height="61" fill="#00ff00"/>
<rect x="844" y="785" width="3" height="65" fill="#00ff00"/>
<rect x="852" y="785" width="3" height="63" fill="#00ff00"/>
<rect x="860" y="785" width="3" height="67" fill="#00ff00"/>
<rect x="868" y="785" width="3" height="69" fill="#00ff00"/>
<rect x="876" y="785" width="3" height="65" fill="#00ff00"/>
<rect x="884" y="785" width="3" height="64" fill="#00ff00"/>
<rect x="892" y="785" width="3" height="71" fill="#00ff00"/>
<rect x="900" y="785" width="3" height="72" fill="#00ff00"/>
<rect x="908" y="785" width="3" height="72" fill="#00ff00"/>
<rect x="916" y="785" width="3" height="71" fill="#00ff00"/>
<rect x="924" y="785" width="3" height="67" fill="#00ff00"/>
<rect x="932" y="785" width="3" height="63" fill="#00ff00"/>
<rect x="940" y="785" width="3" height="62" fill="#00ff00"/>
<rect x="948" y="785" width="3" height="64" fill="#00ff00"/>
<rect x="956" y="785" width="3" height="62" fill="#00ff00"/>
<rect x="964" y="785" width="3" height="61" fill="#00ff00"/>
<rect x="972" y="785" width="3" height="56" fill="#00ff00"/>
<rect x="980" y="785" width="3" height="52" fill="#00ff00"/>
<rect x="988" y="785" width="3" height="56" fill="#00ff00"/>
<rect x="996" y="785" width="3" height="61" fill="#00ff00"/>
<rect x="1004" y="785" width="3" height="57" fill="#00ff00"/>
<rect x="1012" y="785" width="3" height="56" fill="#00ff00"/>
<rect x="1020" y="785" width="3" height="55" fill="#00ff00"/>
<rect x="1028" y="785" width="3" height="53" fill="#00ff00"/>
<rect x="1036" y="785" width="3" height="42" fill="#00ff00"/>
<rect x="1044" y="785" width="3" height="25" fill="#00ff00"/>
<rect x="1052" y="785" width="3" height="12" fill="#00ff00"/>
<rect x="1060" y="785" width="3" height="1" fill="#00ff00"/>
<rect x="1068" y="778" width="3" height="7" fill="#00ff00"/>
<rect x="1076" y="769" width="3" height="16" fill="#00ff00"/>
<rect x="1084" y="770" width="3" height="15" fill="#00ff00"/>
<rect x="1092" y="773" width="3" height="12" fill="#00ff00"/>
<rect x="1100" y="778" width="3" height="7" fill="#00ff00"/>
<rect x="1108" y="784" width="3" height="1" fill="#00ff00"/>
<rect x="1116" y="785" width="3" height="1" fill="#00ff00"/>
<rect x="1124" y="785" width="3" height="4" fill="#00ff00"/>
<rect x="1132" y="785" width="3" height="9" fill="#00ff00"/>
<rect x="1140" y="785" width="3" height="13" fill="#00ff00"/>
<rect x="1148" y="785" width="3" height="12" fill="#00ff00"/>
<rect x="1156" y="785" width="3" height="12" fill="#00ff00"/>
<rect x="1164" y="785" width="3" height="12" fill="#00ff00"/>
<rect x="1172" y="785" width="3" height="8" fill="#00ff00"/>
<rect x="1180" y="785" width="3" height="8" fill="#00ff00"/>
<rect x="1188" y="785" width="3" height="6" fill="#00ff00"/>
<rect x="1196" y="783" width="3" height="2" fill="#00ff00"/>
<rect x="1204" y="776" width="3" height="9" fill="#00ff00"/>
<rect x="1212" y="770" width="3" height="15" fill="#00ff00"/>
<rect x="1220" y="763" width="3" height="22" fill="#00ff00"/>
<rect x="1228" y="761" width="3" height="24" fill="#00ff00"/>
<rect x="1236" y="752" width="3" height="33" fill="#00ff00"/>
<rect x="1244" y="749" width="3" height="36" fill="#00ff00"/>
<rect x="1252" y="748" width="3" height="37" fill="#00ff00"/>
<rect x="1260" y="746" width="3" height="39" fill="#00ff00"/>
<rect x="1268" y="747" width="3" height="38" fill="#00ff00"/>
<rect x="1276" y="756" width="3" height="29" fill="#00ff00"/>
<rect x="1284" y="765" width="3" height="20" fill="#00ff00"/>
<polyline points="5,742.8 13,738.6 21,734.0 29,728.7 37,720.0 45,713.0 53,705.7 61,699.5 69,692.5 77,684.7 85,679.2 93,675.5 101,673.5 109,673.0 117,674.3 125,676.5 133,679.2 141,683.4 149,687.0 157,692.0 165,695.3 173,699.0 181,702.5 189,704.0 197,705.0 205,708.2 213,711.4 221,713.9 229,718.0 237,724.3 245,730.0 253,737.9 261,746.5 269,755.2 277,763.4 285,769.6 293,775.0 301,777.5 309,778.7 317,778.7 325,778.2 333,777.5 341,775.5 349,774.5 357,772.5 365,771.3 373,770.8 381,771.8 389,775.0 397,779.0 405,785.2 413,794.0 421,801.5 429,809.0 437,817.0 445,824.5 453,832.7 461,838.0 469,841.8 477,844.8 485,846.8 493,847.3 501,847.3 509,846.3 517,843.0 525,840.6 533,837.4 541,831.0 549,826.2 557,818.3 565,808.5 573,800.2 581,791.6 589,783.7 597,777.0 605,772.5 613,767.0 621,765.1 629,763.4 637,763.1 645,762.6 653,761.4 661,760.6 669,759.0 677,756.4 685,752.7 693,749.0 701,745.3 709,742.0 717,740.3 725,739.9 733,740.3 741,742.3 749,746.5 757,750.2 765,756.3 773,761.8 781,767.6 789,773.5 797,779.4 805,783.7 813,790.3 821,797.0 829,804.5 837,811.0 845,818.3 853,824.5 861,830.7 869,837.6 877,842.6 885,846.3 893,848.5 901,850.0 909,851.2 917,852.5 925,853.0 933,852.5 941,851.7 949,851.0 957,850.5 965,850.5 973,848.5 981,846.8 989,844.8 997,843.8 1005,843.0 1013,841.8 1021,841.3 1029,840.6 1037,838.1 1045,834.4 1053,830.3 1061,823.4 1069,818.0 1077,809.0 1085,801.0 1093,794.0 1101,787.0 1109,782.0 1117,779.2 1125,778.7 1133,779.5 1141,782.0 1149,785.3 1157,788.6 1165,790.6 1173,792.3 1181,793.6 1189,793.6 1197,793.6 1205,791.6 1213,788.6 1221,784.9 1229,781.2 1237,776.5 1245,771.5 1253,765.8 1261,761.4 1269,757.0 1277,755.2 1285,755.2" fill="none" stroke="#ff0000" stroke-width="2" stroke-linejoin="round"/>
</g>
<path d="M4.5 4.5H1623.5V653.5H4.5Z M4.5 655.5H1623.5V866.5H4.5Z" stroke="#000" stroke-width="1" fill="none"/>
<rect x="4" y="382" width="1" height="3" fill="#0000cd"/>
<rect x="4" y="418" width="1" height="3" fill="#0000cd"/>
<rect x="1623" y="382" width="1" height="3" fill="#0000cd"/>
<rect x="1623" y="418" width="1" height="3" fill="#0000cd"/>
<g font-family='"Liberation Sans", sans-serif' font-size="9.5px" fill="#000" stroke="#000" stroke-width="0.15" shape-rendering="auto"><text x="1628.5" y="27">33990.5</text><text x="1628.5" y="60">33871.5</text><text x="1628.5" y="93">33752.5</text><text x="1628.5" y="126">33630.0</text><text x="1628.5" y="159">33511.0</text><text x="1628.5" y="192">33392.0</text><text x="1628.5" y="225">33269.5</text><text x="1628.5" y="258">33150.5</text><text x="1628.5" y="291">33031.5</text><text x="1628.5" y="324">32909.0</text><text x="1628.5" y="357">32790.0</text><text x="1628.5" y="390">32668.5</text><text x="1628.5" y="423">32549.5</text><text x="1628.5" y="456">32429.5</text><text x="1628.5" y="489">32307.0</text><text x="1628.5" y="522">32188.0</text><text x="1628.5" y="555">32069.0</text><text x="1628.5" y="588">31946.5</text><text x="1628.5" y="621">31827.5</text><text x="1628.5" y="654">31708.5</text><text x="1627.3" y="666">420.25</text><text x="1627.3" y="789">0.00</text><text x="1627.3" y="863">-264.58</text></g>
<path d="M1624 23.5H1626M1624 56.5H1626M1624 89.5H1626M1624 122.5H1626M1624 155.5H1626M1624 188.5H1626M1624 221.5H1626M1624 254.5H1626M1624 287.5H1626M1624 320.5H1626M1624 353.5H1626M1624 386.5H1626M1624 419.5H1626M1624 452.5H1626M1624 485.5H1626M1624 518.5H1626M1624 551.5H1626M1624 584.5H1626M1624 617.5H1626M1624 650.5H1626M1624 785.5H1625M5.5 867V870M69.5 867V870M133.5 867V870M197.5 867V870M261.5 867V870M325.5 867V870M389.5 867V870M453.5 867V870M517.5 867V870M581.5 867V870M645.5 867V870M709.5 867V870M773.5 867V870M837.5 867V870M901.5 867V870M965.5 867V870M1029.5 867V870M1093.5 867V870M1157.5 867V870M1221.5 867V870M1285.5 867V870" stroke="#000" stroke-width="1" fill="none"/>
<g font-family='"Liberation Sans", sans-serif' font-size="10px" fill="#000" stroke="#000" stroke-width="0.15" shape-rendering="auto"><text transform="translate(4.2,880) scale(0.92,1)">12 Jun 2023</text><text transform="translate(68.2,880) scale(0.92,1)">14 Jun 04:00</text><text transform="translate(132.2,880) scale(0.92,1)">15 Jun 14:55</text><text transform="translate(196.2,880) scale(0.92,1)">18 Jun 23:30</text><text transform="translate(260.2,880) scale(0.92,1)">20 Jun 10:55</text><text transform="translate(324.2,880) scale(0.92,1)">21 Jun 18:55</text><text transform="translate(388.2,880) scale(0.92,1)">23 Jun 00:00</text><text transform="translate(452.2,880) scale(0.92,1)">26 Jun 10:55</text><text transform="translate(516.2,880) scale(0.92,1)">27 Jun 18:55</text><text transform="translate(580.2,880) scale(0.92,1)">29 Jun 00:00</text><text transform="translate(644.2,880) scale(0.92,1)">30 Jun 10:55</text><text transform="translate(708.2,880) scale(0.92,1)">3 Jul 23:30</text><text transform="translate(772.2,880) scale(0.92,1)">5 Jul 10:55</text><text transform="translate(836.2,880) scale(0.92,1)">6 Jul 18:55</text><text transform="translate(900.2,880) scale(0.92,1)">10 Jul 04:00</text><text transform="translate(964.2,880) scale(0.92,1)">11 Jul 14:55</text><text transform="translate(1028.2,880) scale(0.92,1)">12 Jul 23:30</text><text transform="translate(1092.2,880) scale(0.92,1)">14 Jul 04:00</text><text transform="translate(1156.2,880) scale(0.92,1)">17 Jul 14:55</text><text transform="translate(1220.2,880) scale(0.92,1)">18 Jul 23:30</text><text transform="translate(1284.2,880) scale(0.92,1)">20 Jul 04:00</text></g>
<rect x="1625" y="377" width="41" height="11" fill="#0000cd"/>
<text x="1628.5" y="386" font-family='"Liberation Sans", sans-serif' font-size="9.5px" fill="#fff" stroke="#fff" stroke-width="0.15" shape-rendering="auto">32680.5</text>
<rect x="1625" y="413" width="41" height="11" fill="#0000cd"/>
<text x="1628.5" y="422" font-family='"Liberation Sans", sans-serif' font-size="9.5px" fill="#fff" stroke="#fff" stroke-width="0.15" shape-rendering="auto">32550.0</text>
<rect x="1625" y="467" width="41" height="11" fill="#000000"/>
<text x="1628.5" y="476" font-family='"Liberation Sans", sans-serif' font-size="9.5px" fill="#fff" stroke="#fff" stroke-width="0.15" shape-rendering="auto">32355.5</text>
<path d="M8 11H15L11.5 15Z" fill="#000" shape-rendering="auto"/>
<g font-family='"Liberation Sans", sans-serif' font-size="9.5px" fill="#000" stroke="#000" stroke-width="0.15" shape-rendering="auto"><text x="19.5" y="16">JPN225-,H4</text><text x="75.5" y="16" transform="translate(75.5,0) scale(0.975,1) translate(-75.5,0)">32530.8 32555.7 32301.4 32355.5</text></g>
<text x="8.8" y="668" font-family='"Liberation Sans", sans-serif' font-size="9.5px" fill="#000" stroke="#000" stroke-width="0.15" shape-rendering="auto">MACD(12,26,9) 63.46 100.74</text>
<path d="M1293 5H1302L1297.5 10Z" fill="#778899" shape-rendering="auto"/>
<g shape-rendering="auto"><line x1="1298.5" y1="428" x2="1327" y2="542" stroke="#ff0000" stroke-width="5.5" stroke-linecap="round"/><path d="M1315 541L1338 535L1335.5 571Z" fill="#ff0000"/></g>
</svg></body></html>
